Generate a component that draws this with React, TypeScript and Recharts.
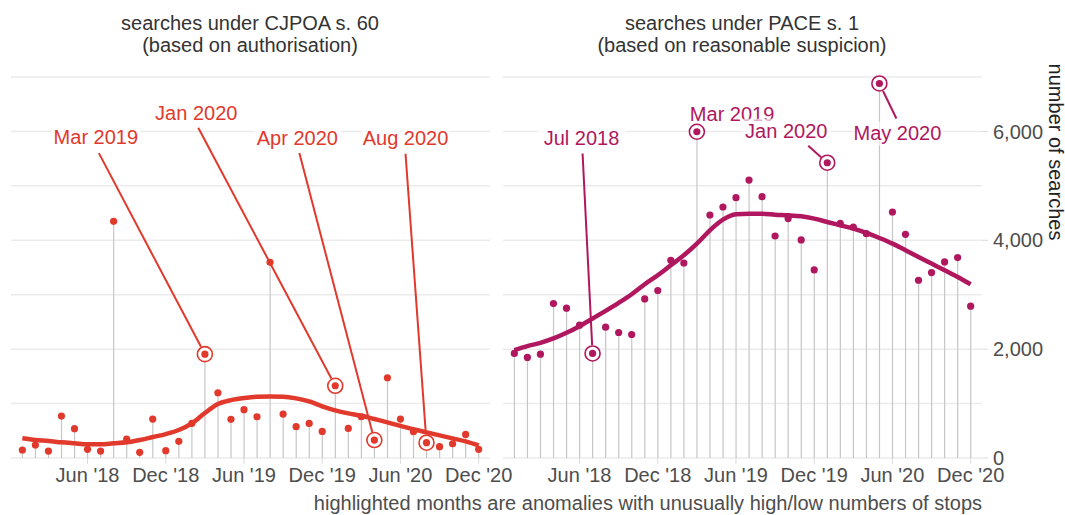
import React from 'react'
import { ComposedChart, Bar, Line, XAxis, YAxis, CartesianGrid } from 'recharts'

const MONTHS = [
  'Jan 2018', 'Feb 2018', 'Mar 2018', 'Apr 2018', 'May 2018', 'Jun 2018',
  'Jul 2018', 'Aug 2018', 'Sep 2018', 'Oct 2018', 'Nov 2018', 'Dec 2018',
  'Jan 2019', 'Feb 2019', 'Mar 2019', 'Apr 2019', 'May 2019', 'Jun 2019',
  'Jul 2019', 'Aug 2019', 'Sep 2019', 'Oct 2019', 'Nov 2019', 'Dec 2019',
  'Jan 2020', 'Feb 2020', 'Mar 2020', 'Apr 2020', 'May 2020', 'Jun 2020',
  'Jul 2020', 'Aug 2020', 'Sep 2020', 'Oct 2020', 'Nov 2020', 'Dec 2020',
]

// CJPOA s. 60 searches per month, and the smoothed trend
const S60_VALUES = [
  147, 239, 128, 771, 538, 159, 128, 4349, 349, 104, 716, 134,
  306, 636, 1908, 1199, 710, 887, 758, 3596, 807, 575, 636, 489,
  1327, 544, 758, 330, 1474, 716, 483, 281, 208, 262, 434, 159,
]
const S60_TREND = [
  361, 330, 312, 288, 269, 251, 251, 269, 288, 330, 385, 440,
  514, 636, 826, 991, 1064, 1101, 1125, 1130, 1125, 1095, 1040, 950,
  875, 820, 777, 716, 655, 590, 530, 470, 415, 360, 305, 230,
]
const S60_ANOMALIES = ['Mar 2019', 'Jan 2020', 'Apr 2020', 'Aug 2020']

// PACE s. 1 searches per month, and the smoothed trend
const PACE_VALUES = [
  1921, 1848, 1908, 2838, 2752, 2440, 1921, 2404, 2306, 2269, 2923, 3077,
  3633, 3583, 5994, 4465, 4612, 4783, 5106, 4801, 4079, 4398, 4006, 3456,
  5425, 4312, 4244, 4122, 6881, 4520, 4110, 3266, 3407, 3602, 3682, 2789,
]
const PACE_TREND = [
  1982, 2055, 2116, 2196, 2300, 2422, 2563, 2703, 2850, 3009, 3193, 3358,
  3541, 3725, 3939, 4183, 4379, 4477, 4489, 4489, 4471, 4459, 4440, 4398,
  4336, 4275, 4214, 4134, 4042, 3939, 3817, 3694, 3572, 3450, 3327, 3193,
]
const PACE_ANOMALIES = ['Jul 2018', 'Mar 2019', 'Jan 2020', 'May 2020']

const X_TICKS = [5, 11, 17, 23, 29, 35]
const X_TICK_LABELS = ["Jun '18", "Dec '18", "Jun '19", "Dec '19", "Jun '20", "Dec '20"]
const Y_TICKS = [0, 2000, 4000, 6000]
const GRID_VALUES = [0, 1000, 2000, 3000, 4000, 5000, 6000, 7000]

const RED = '#e1392c'
const PURPLE = '#b0175e'
const FONT = '"Liberation Sans", Arial, sans-serif'

// label placement, pixel offsets from the highlighted point
type Offset = { tx: number; ty: number; lx?: number; ly?: number; anchor?: 'start' | 'middle' }
const S60_LABELS: Record<string, Offset> = {
  'Mar 2019': { tx: -109, ty: -217, lx: -106, ly: -201 },
  'Jan 2020': { tx: -139, ty: -273, lx: -137, ly: -258 },
  'Apr 2020': { tx: -77, ty: -302, lx: -75, ly: -287 },
  'Aug 2020': { tx: -21, ty: -305, lx: -21, ly: -289 },
}
const PACE_LABELS: Record<string, Offset> = {
  'Jul 2018': { tx: -11, ty: -215, lx: -10, ly: -200 },
  'Mar 2019': { tx: -7, ty: -18, anchor: 'start' },
  'Jan 2020': { tx: -41, ty: -32, lx: -19, ly: -17 },
  'May 2020': { tx: 18, ty: 50, lx: 17, ly: 35 },
}

function buildRows(values: number[], trend: number[], anomalies: string[]) {
  return MONTHS.map((m, i) => ({
    i,
    month: m,
    value: values[i],
    trend: trend[i],
    anomaly: anomalies.includes(m) ? values[i] : null,
  }))
}

function makeAnomalyDot(color: string, labels: Record<string, Offset>) {
  return (props: any) => {
    const { cx, cy, payload } = props
    const key = `anom-${payload?.i}`
    if (payload?.anomaly == null || cx == null || cy == null) return <g key={key} />
    const o = labels[payload.month]
    const r = 7.5
    let line = null
    if (o.lx !== undefined && o.ly !== undefined) {
      const len = Math.hypot(o.lx, o.ly)
      const ex = cx + (o.lx / len) * (r + 0.8)
      const ey = cy + (o.ly / len) * (r + 0.8)
      line = <line x1={cx + o.lx} y1={cy + o.ly} x2={ex} y2={ey} stroke={color} strokeWidth={2} />
    }
    const w = 88
    const anchor = o.anchor ?? 'middle'
    const bx = anchor === 'middle' ? cx + o.tx - w / 2 : cx + o.tx - 2
    return (
      <g key={key}>
        <rect x={bx} y={cy + o.ty - 12} width={w} height={24} fill="#ffffff" fillOpacity={0.65} />
        <text
          x={cx + o.tx}
          y={cy + o.ty}
          dy="0.35em"
          textAnchor={anchor}
          fontSize={20}
          fontFamily={FONT}
          fill={color}
        >
          {payload.month}
        </text>
        {line}
        <circle cx={cx} cy={cy} r={r} fill="#ffffff" stroke={color} strokeWidth={1.6} />
        <circle cx={cx} cy={cy} r={3.6} fill={color} />
      </g>
    )
  }
}

const tickStyle = { fontSize: 20, fill: '#4d4d4d', fontFamily: FONT }

function Panel({ rows, color, labels, left, right, showY }: any) {
  return (
    <div style={{ position: 'absolute', left: 0, top: 0 }}>
      <ComposedChart
        width={1065}
        height={515}
        data={rows}
        margin={{ top: 77, right, bottom: 27, left }}
      >
        <CartesianGrid vertical={false} horizontalValues={GRID_VALUES} stroke="#ebebeb" strokeWidth={1.5} />
        <XAxis
          dataKey="i"
          type="number"
          domain={[-0.87, 35.87]}
          ticks={X_TICKS}
          interval={0}
          tickFormatter={(v) => X_TICK_LABELS[X_TICKS.indexOf(v)] ?? ''}
          axisLine={false}
          tickLine={{ stroke: '#dcdcdc' }}
          tickSize={6}
          tickMargin={4}
          height={30}
          tick={tickStyle}
        />
        <YAxis
          domain={[0, 7000]}
          ticks={Y_TICKS}
          orientation="right"
          hide={!showY}
          width={70}
          axisLine={false}
          tickLine={{ stroke: '#dcdcdc' }}
          tickSize={6}
          tickMargin={5}
          tick={{ ...tickStyle, textAnchor: 'start' }}
          tickFormatter={(v) => v.toLocaleString('en-US')}
        />
        <Bar dataKey="value" barSize={1.2} fill="#c6c6c6" isAnimationActive={false} />
        <Line
          dataKey="trend"
          type="monotone"
          stroke={color}
          strokeWidth={4.5}
          dot={false}
          isAnimationActive={false}
        />
        <Line
          dataKey="value"
          stroke="none"
          dot={{ r: 3.6, fill: color, stroke: 'none' }}
          isAnimationActive={false}
        />
        <Line
          dataKey="anomaly"
          stroke="none"
          dot={makeAnomalyDot(color, labels)}
          isAnimationActive={false}
        />
      </ComposedChart>
    </div>
  )
}

const titleStyle: React.CSSProperties = {
  position: 'absolute',
  top: 12,
  width: 480,
  textAlign: 'center',
  fontFamily: FONT,
  fontSize: 20,
  lineHeight: '22px',
  color: '#333333',
}

export default function App() {
  const s60Rows = buildRows(S60_VALUES, S60_TREND, S60_ANOMALIES)
  const paceRows = buildRows(PACE_VALUES, PACE_TREND, PACE_ANOMALIES)
  return (
    <div
      style={{
        position: 'absolute',
        left: 0,
        top: 0,
        width: 1065,
        height: 515,
        background: '#ffffff',
        overflow: 'hidden',
      }}
    >
      <div style={{ ...titleStyle, left: 10 }}>
        searches under CJPOA s. 60
        <br />
        (based on authorisation)
      </div>
      <div style={{ ...titleStyle, left: 502 }}>
        searches under PACE s. 1
        <br />
        (based on reasonable suspicion)
      </div>
      <Panel rows={s60Rows} color={RED} labels={S60_LABELS} left={11} right={575} showY={false} />
      <Panel rows={paceRows} color={PURPLE} labels={PACE_LABELS} left={503} right={13} showY />
      <div
        style={{
          position: 'absolute',
          left: 1055,
          top: 152,
          transform: 'translate(-50%, -50%) rotate(90deg)',
          whiteSpace: 'nowrap',
          fontFamily: FONT,
          fontSize: 20,
          color: '#222222',
        }}
      >
        number of searches
      </div>
      <div
        style={{
          position: 'absolute',
          right: 1065 - 982,
          top: 492,
          whiteSpace: 'nowrap',
          fontFamily: FONT,
          fontSize: 20,
          lineHeight: '22px',
          color: '#4d4d4d',
        }}
      >
        highlighted months are anomalies with unusually high/low numbers of stops
      </div>
    </div>
  )
}
